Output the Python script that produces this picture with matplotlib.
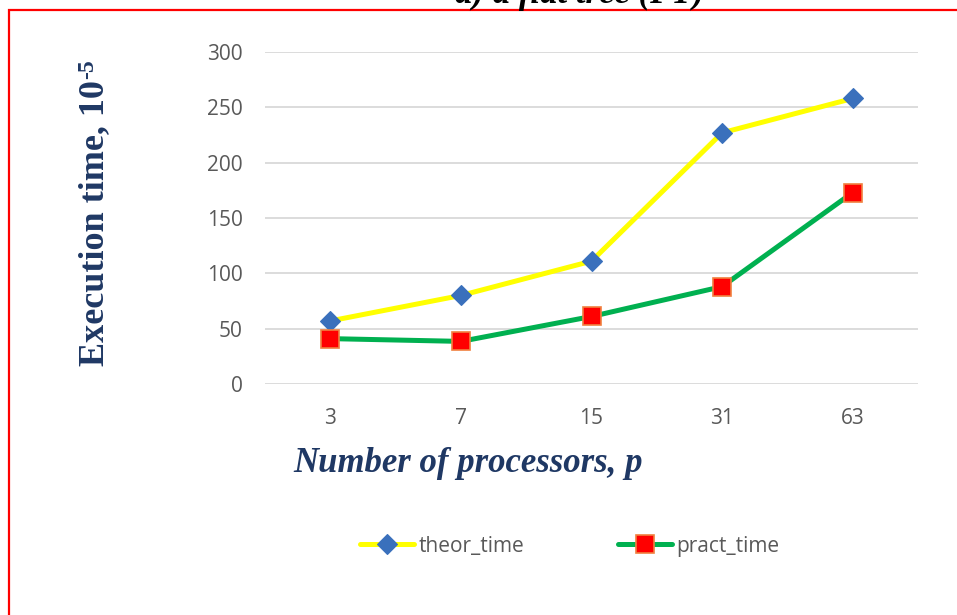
import matplotlib
matplotlib.use("Agg")
import matplotlib.pyplot as plt
from matplotlib.patches import Rectangle

# Execution time (in units of 1e-5) versus number of processors
processors = ["3", "7", "15", "31", "63"]
theor_time = [57, 80, 111, 227, 258]
pract_time = [41, 38.5, 61, 88, 173]
y_ticks = [0, 50, 100, 150, 200, 250, 300]

W, H = 957, 615
fig = plt.figure(figsize=(W / 100, H / 100), dpi=100)
fig.patch.set_facecolor("white")


def fx(px):
    return px / W


def fy(py):
    return 1 - py / H


# chart frame (red border, open on the right and bottom)
fig.add_artist(Rectangle((fx(9), -0.1), 1.2, fy(10) + 0.1,
                         transform=fig.transFigure, fill=False,
                         edgecolor="#FF0000", linewidth=1.6))

# panel caption, partly above the top edge
fig.text(fx(580), fy(3), "a) a flat tree (PT)", ha="center", va="baseline",
         fontsize=25, fontweight="bold", fontstyle="italic",
         family="Liberation Serif", color="black")

ax = fig.add_axes([fx(265), fy(384), 653 / W, 332 / H])
x = list(range(len(processors)))

ax.plot(x, theor_time, color="#FFFF00", linewidth=3.6, solid_capstyle="round",
        marker="D", markersize=10, markerfacecolor="#3A70BC",
        markeredgecolor="#3A70BC", markeredgewidth=0.8, label="theor_time",
        clip_on=False, zorder=3)
ax.plot(x, pract_time, color="#00B050", linewidth=3.6, solid_capstyle="round",
        marker="s", markersize=12.5, markerfacecolor="#FF0000",
        markeredgecolor="#F08040", markeredgewidth=1.2, label="pract_time",
        clip_on=False, zorder=3)

ax.set_xlim(-0.5, len(processors) - 0.5)
ax.set_ylim(0, 300)
ax.set_xticks(x)
ax.set_xticklabels(processors)
ax.set_yticks(y_ticks)
ax.grid(axis="y", color="#D9D9D9", linewidth=1.3)
ax.set_axisbelow(True)
for s in ax.spines.values():
    s.set_visible(False)
ax.tick_params(axis="both", length=0, labelsize=15, labelcolor="#595959")
ax.tick_params(axis="y", pad=16)
ax.tick_params(axis="x", pad=17)
for lbl in ax.get_xticklabels() + ax.get_yticklabels():
    lbl.set_family("Open Sans")

# axis titles
fig.text(fx(468), fy(472), "Number of processors, p", ha="center", va="baseline",
         fontsize=25, fontweight="bold", fontstyle="italic",
         family="Liberation Serif", color="#1F3864")

ylab = fig.text(fx(103), fy(366), "Execution time, 10", rotation=90,
                rotation_mode="anchor", ha="left", va="baseline",
                fontsize=26, fontweight="bold", family="Liberation Serif",
                color="#1F3864")
fig.canvas.draw()
bb = ylab.get_window_extent(fig.canvas.get_renderer())
fig.text(fx(93), (bb.y1 + 1) / H, "-5", rotation=90,
         rotation_mode="anchor", ha="left", va="baseline",
         fontsize=17, fontweight="bold", family="Liberation Serif",
         color="#1F3864")

leg = ax.legend(loc="center", bbox_to_anchor=(0.467, -0.488), ncol=2, frameon=False,
                handlelength=2.6, columnspacing=4.5, handletextpad=0.2,
                prop={"family": "Open Sans", "size": 15})
for t in leg.get_texts():
    t.set_color("#595959")

fig.savefig("out.png", dpi=100)
